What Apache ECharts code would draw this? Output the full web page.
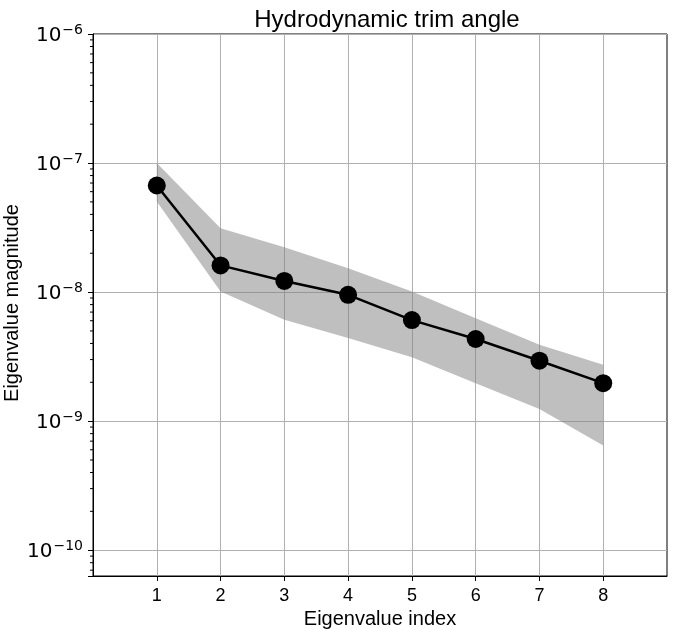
<!DOCTYPE html>
<html>
<head>
<meta charset="utf-8">
<script src="https://cdn.jsdelivr.net/npm/echarts@6/dist/echarts.min.js"></script>
<style>
html,body{margin:0;padding:0;background:#fff;}
#chart{width:678px;height:629px;}
</style>
</head>
<body>
<div id="chart"></div>
<script>
var eigenIndex = [1, 2, 3, 4, 5, 6, 7, 8];
var meanValues = [6.70e-8, 1.61e-8, 1.22e-8, 9.53e-9, 6.07e-9, 4.33e-9, 2.94e-9, 1.97e-9];
var upperValues = [1.00e-7, 3.13e-8, 2.23e-8, 1.53e-8, 1.01e-8, 6.28e-9, 3.90e-9, 2.73e-9];
var lowerValues = [5.04e-8, 1.01e-8, 6.10e-9, 4.40e-9, 3.13e-9, 1.97e-9, 1.24e-9, 6.47e-10];
var xTickLabels = ['1', '2', '3', '4', '5', '6', '7', '8'];
var yAxisTitle = 'Eigenvalue magnitude';
var yMinExp = -10.2, yMaxExp = -6;
var minorTickValues = [];
for (var d = -11; d <= -7; d++) {
  for (var m = 2; m <= 9; m++) {
    var v = m * Math.pow(10, d);
    if (Math.log10(v) > yMinExp && Math.log10(v) < yMaxExp) minorTickValues.push(v);
  }
}

var chart = echarts.init(document.getElementById('chart'), null, {renderer: 'canvas'});
var FONT = 'Liberation Sans, Arial, sans-serif';
var MATH = 'DejaVu Sans, sans-serif';

var bandData = eigenIndex.map(function (x, i) { return [x, lowerValues[i], upperValues[i]]; });
var lineData = eigenIndex.map(function (x, i) { return [x, meanValues[i]]; });
var minorData = minorTickValues.map(function (v) { return [0, v]; });

var option = {
  backgroundColor: '#ffffff',
  animation: false,
  title: {
    text: 'Hydrodynamic trim angle',
    left: 382, top: 3, textAlign: 'center',
    textStyle: {fontFamily: FONT, fontSize: 24, fontWeight: 'normal', color: '#000'}
  },
  graphic: [{
    type: 'text', x: 12, y: 303, rotation: Math.PI / 2,
    style: {text: yAxisTitle, fontFamily: FONT, fontSize: 20, fill: '#000', align: 'center', verticalAlign: 'middle'}
  }],
  grid: {left: 93, right: 11, top: 34, bottom: 53, show: true, borderColor: '#000', borderWidth: 1,
         backgroundColor: 'transparent', containLabel: false, outerBoundsMode: 'none'},
  xAxis: {
    type: 'value', min: 0, max: 9, interval: 1,
    name: 'Eigenvalue index', nameLocation: 'middle', nameGap: 31,
    nameTextStyle: {fontFamily: FONT, fontSize: 20, color: '#000'},
    axisLine: {show: true, onZero: false, lineStyle: {color: '#000', width: 1}},
    axisTick: {show: true, length: 5, lineStyle: {color: '#000'}, customValues: eigenIndex},
    axisLabel: {
      fontFamily: FONT, fontSize: 18, color: '#000', margin: 11,
      customValues: eigenIndex,
      formatter: function (v) { var i = eigenIndex.indexOf(v); return i >= 0 ? xTickLabels[i] : ''; }
    },
    splitLine: {show: true, lineStyle: {color: '#b0b0b0', width: 1}}
  },
  yAxis: {
    type: 'log', logBase: 10,
    min: Math.pow(10, yMinExp), max: Math.pow(10, yMaxExp),
    axisLine: {show: true, lineStyle: {color: '#000', width: 1}},
    axisTick: {show: true, length: 5, lineStyle: {color: '#000'}},
    axisLabel: {
      margin: 10, color: '#000',
      formatter: function (v) {
        var e = Math.log10(v);
        if (Math.abs(e - Math.round(e)) > 1e-6) return '';
        var r = Math.round(e);
        return '{b|10}{s|' + (r < 0 ? '\u2212' : '') + Math.abs(r) + '}';
      },
      rich: {
        b: {fontFamily: MATH, fontSize: 20, color: '#000', padding: [4, 0, 0, 0]},
        s: {fontFamily: MATH, fontSize: 14, color: '#000', padding: [0, 0, 8, 1]}
      }
    },
    splitLine: {show: true, lineStyle: {color: '#b0b0b0', width: 1}}
  },
  series: [
    {
      type: 'custom', name: 'band', data: bandData, z: 1, silent: true,
      encode: {x: 0, y: [1, 2]},
      renderItem: function (params, api) {
        if (params.dataIndex !== 0) return null;
        var pts = [];
        for (var i = 0; i < bandData.length; i++) pts.push(api.coord([bandData[i][0], bandData[i][2]]));
        for (var j = bandData.length - 1; j >= 0; j--) pts.push(api.coord([bandData[j][0], bandData[j][1]]));
        return {type: 'polygon', shape: {points: pts}, style: {fill: 'rgba(128,128,128,0.5)', stroke: null}};
      }
    },
    {
      type: 'line', name: 'mean', data: lineData, z: 3,
      symbol: 'circle', symbolSize: 18,
      lineStyle: {color: '#000', width: 2.5},
      itemStyle: {color: '#000'}
    },
    {
      type: 'custom', name: 'minorTicks', data: minorData, z: 4, silent: true, clip: false,
      renderItem: function (params, api) {
        var p = api.coord([api.value(0), api.value(1)]);
        return {type: 'line', shape: {x1: p[0] - 3, y1: p[1], x2: p[0], y2: p[1]}, style: {stroke: '#000', lineWidth: 1}};
      }
    }
  ]
};
chart.setOption(option);
</script>
</body>
</html>
